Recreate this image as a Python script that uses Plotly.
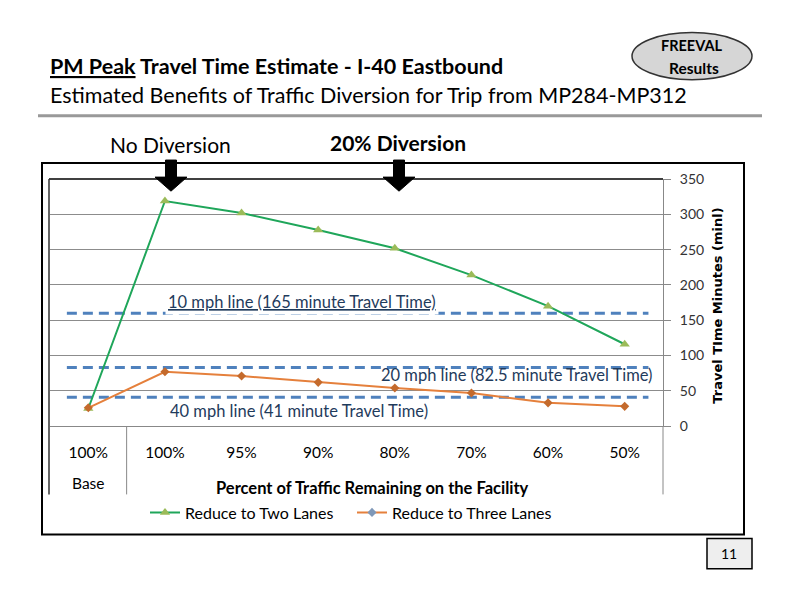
import plotly.graph_objects as go

# ---------------- data ----------------
categories = ["100%", "100%", "95%", "90%", "80%", "70%", "60%", "50%"]
x_index = [0, 1, 2, 3, 4, 5, 6, 7]
base_label = "Base"
two_lanes = [25, 319, 302, 278, 252, 214, 170, 116]      # Reduce to Two Lanes
three_lanes = [26, 77, 71, 62, 54, 47, 33, 28]           # Reduce to Three Lanes
ref_values = [160, 83, 41]                               # speed reference lines
ref_labels = ["10 mph line (165 minute Travel Time)",
              "20 mph line (82.5 minute Travel Time)",
              "40 mph line (41 minute Travel Time)"]
y_ticks = [0, 50, 100, 150, 200, 250, 300, 350]

# page body keeps its default 8px margin, so the figure is 16px smaller
OFF = 8
W, H = 792 - 2 * OFF, 612 - 2 * OFF
# the photographed page is slightly compressed vertically; compensate
SY, BY = 0.9675, 9.8
def X(p): return (p - OFF) / W
def Y(p):
    page = (p - BY) / SY
    return 1 - (page - OFF) / H

FONT = "Lato"
GREEN = "#1FA65A"
GREEN_M = "#9BBB59"
ORANGE = "#E5803C"
ORANGE_M = "#C46A2C"
DASH = "#4F81BD"
NAVY = "#1F3B5C"

fig = go.Figure()

fig.add_trace(go.Scatter(
    x=x_index, y=two_lanes, mode="lines+markers", name="Reduce to Two Lanes",
    line=dict(color=GREEN, width=2),
    marker=dict(symbol="triangle-up", size=9, color=GREEN_M),
    showlegend=True))
fig.add_trace(go.Scatter(
    x=x_index, y=three_lanes, mode="lines+markers", name="Reduce to Three Lanes",
    line=dict(color=ORANGE, width=2),
    marker=dict(symbol="diamond", size=7, color=ORANGE_M),
    showlegend=False))
# legend entry for three lanes (grey-blue diamond in legend)
fig.add_trace(go.Scatter(
    x=[None], y=[None], mode="lines+markers", name="Reduce to Three Lanes",
    line=dict(color=ORANGE, width=2),
    marker=dict(symbol="diamond", size=7, color="#7F98B8"),
    showlegend=True))

shapes = []
# speed reference dashed lines
for v in ref_values:
    shapes.append(dict(type="line", xref="x", yref="y", x0=-0.28, x1=7.31, y0=v, y1=v,
                       line=dict(color=DASH, width=3, dash="10px,6px"), layer="below"))

# outer chart box
shapes.append(dict(type="rect", xref="paper", yref="paper",
                   x0=X(42), x1=X(744), y0=Y(533), y1=Y(163),
                   line=dict(color="black", width=2)))
# inner plot frame
shapes.append(dict(type="line", xref="paper", yref="paper",
                   x0=X(49), x1=X(663), y0=Y(179), y1=Y(179), line=dict(color="black", width=1.5)))
shapes.append(dict(type="line", xref="paper", yref="paper",
                   x0=X(49), x1=X(49), y0=Y(179), y1=Y(493), line=dict(color="#333333", width=1.5)))
shapes.append(dict(type="line", xref="paper", yref="paper",
                   x0=X(663), x1=X(663), y0=Y(425), y1=Y(493), line=dict(color="#888888", width=1)))
shapes.append(dict(type="line", xref="x", yref="paper",
                   x0=0.5, x1=0.5, y0=Y(425), y1=Y(493), line=dict(color="#888888", width=1)))
# grey rule under header
shapes.append(dict(type="line", xref="paper", yref="paper",
                   x0=X(38), x1=X(762), y0=Y(116), y1=Y(116), line=dict(color="#999999", width=3)))
# FREEVAL oval
shapes.append(dict(type="circle", xref="paper", yref="paper",
                   x0=X(632), x1=X(752), y0=Y(80), y1=Y(33),
                   fillcolor="#D6D6D6", line=dict(color="#333333", width=1.5)))
# page number box
shapes.append(dict(type="rect", xref="paper", yref="paper",
                   x0=X(707), x1=X(752), y0=Y(567), y1=Y(537),
                   fillcolor="#EEEEEE", line=dict(color="black", width=1.5)))

# arrows
def arrow(cx):
    pts = [(cx - 5.5, 160), (cx + 5.5, 160), (cx + 5.5, 177), (cx + 16, 177),
           (cx, 191), (cx - 16, 177), (cx - 5.5, 177)]
    path = "M " + " L ".join(f"{X(a):.5f},{Y(b):.5f}" for a, b in pts) + " Z"
    return dict(type="path", xref="paper", yref="paper", path=path,
                fillcolor="black", line=dict(color="black", width=1))
shapes.append(arrow(171))
shapes.append(arrow(399))

ann = []
def txt(x, y, s, size=14, color="black", bold=False, xanchor="left", **kw):
    if bold:
        s = f"<b>{s}</b>"
    ann.append(dict(x=X(x), y=Y(y), xref="paper", yref="paper", text=s, showarrow=False,
                    xanchor=xanchor, yanchor="middle",
                    font=dict(family=FONT, size=size, color=color), **kw))

txt(48, 66, "<u>PM Peak</u> Travel Time Estimate - I-40 Eastbound", size=21.5, bold=True)
txt(48, 95, "Estimated Benefits of Traffic Diversion for Trip from MP284-MP312", size=21.5)
txt(692, 46, "FREEVAL", size=14.5, bold=True, xanchor="center")
txt(694, 68, "Results", size=15.5, bold=True, xanchor="center")
txt(170, 145, "No Diversion", size=21, xanchor="center")
txt(398, 143, "20% Diversion", size=21, bold=True, xanchor="center")

# reference line labels
txt(302, 301, "<u>" + ref_labels[0] + "</u>", size=16.5, color=NAVY, xanchor="center",
    bgcolor="white", borderpad=2)
txt(517, 374, ref_labels[1], size=16.5, color=NAVY, xanchor="center")
txt(299, 410, ref_labels[2], size=16.5, color=NAVY, xanchor="center")

# base label + axis titles
ann.append(dict(x=0, y=Y(482), xref="x", yref="paper", text=base_label, showarrow=False,
                xanchor="center", yanchor="middle", font=dict(family=FONT, size=15.5, color="black")))
txt(372, 487, "Percent of Traffic Remaining on the Facility", size=16.5, bold=True, xanchor="center")
ann.append(dict(x=X(718), y=Y(305), xref="paper", yref="paper",
                text="<b>Travel TIme Minutes (minl)</b>", showarrow=False, textangle=-90,
                xanchor="center", yanchor="middle", font=dict(family="DejaVu Sans", size=13, color="black")))
txt(729, 552, "11", size=14, xanchor="center")

fig.update_layout(
    width=W, height=H, margin=dict(l=0, r=0, t=0, b=0),
    paper_bgcolor="white", plot_bgcolor="white",
    shapes=shapes, annotations=ann,
    font=dict(family=FONT, size=14, color="black"),
    legend=dict(orientation="h", x=X(145), y=Y(511), xanchor="left", yanchor="middle",
                font=dict(family=FONT, size=16, color="black"),
                bgcolor="rgba(0,0,0,0)", itemwidth=30,
                entrywidth=162, entrywidthmode="pixels"),
    xaxis=dict(domain=[X(50), X(663)], range=[-0.5, 7.5],
               tickmode="array", tickvals=x_index, ticktext=categories,
               showgrid=False, zeroline=False, showline=True, linecolor="#888888", linewidth=1,
               ticks="", ticklabelstandoff=12,
               tickfont=dict(family=FONT, size=15.5, color="black")),
    yaxis=dict(domain=[Y(425), Y(179)], range=[0, 350], side="right",
               tickmode="array", tickvals=y_ticks,
               showgrid=True, gridcolor="#8C8C8C", gridwidth=1, zeroline=False,
               showline=True, linecolor="#888888", linewidth=1,
               ticks="outside", ticklen=7, tickcolor="#888888",
               ticklabelstandoff=6,
               tickfont=dict(family=FONT, size=14, color="#333333")),
)

fig.write_html("out.html", config={"displayModeBar": False})
